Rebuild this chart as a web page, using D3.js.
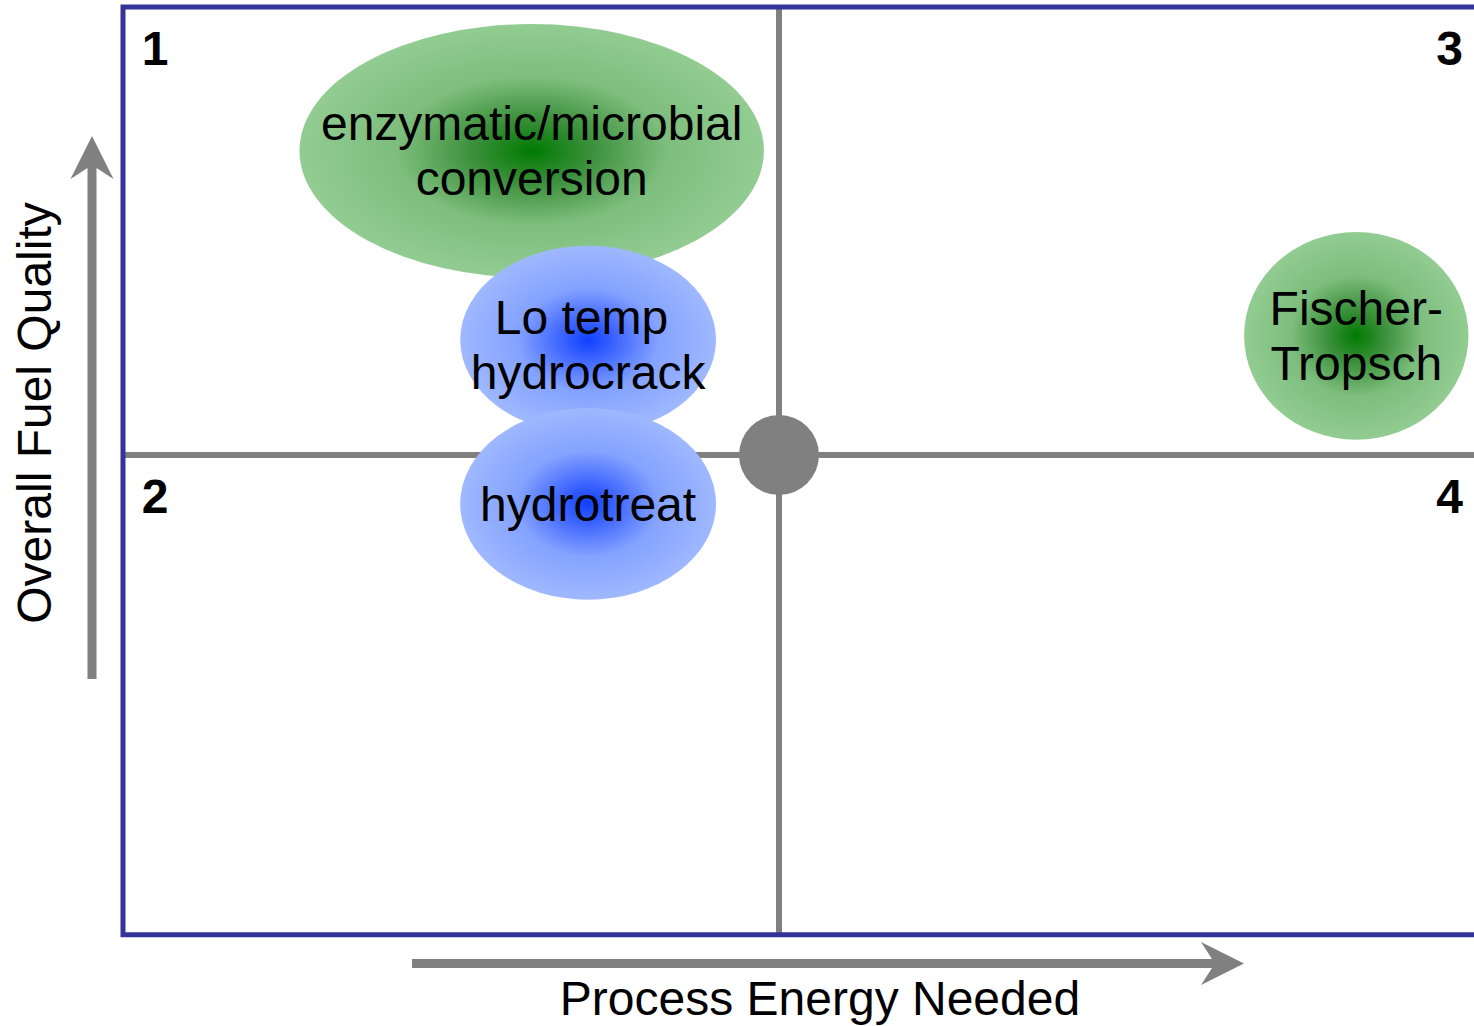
<!DOCTYPE html>
<html>
<head>
<meta charset="utf-8">
<script src="https://cdn.jsdelivr.net/npm/d3@7"></script>
<style>
  html, body { margin: 0; padding: 0; background: #fff; }
  svg { display: block; }
  text { font-family: "Liberation Sans", Arial, sans-serif; }
</style>
</head>
<body>
<svg id="chart" width="1474" height="1026"></svg>
<script>
// Process technologies placed by energy needed (x) and fuel quality (y);
// 0 on each axis is where the quadrant dividers cross.
const processNames = ["enzymatic", "loTempHydrocrack", "hydrotreat", "fischerTropsch"];
const processLabels = [
  ["enzymatic/microbial", "conversion"],
  ["Lo temp\u00a0", "hydrocrack"],
  ["hydrotreat"],
  ["Fischer-", "Tropsch"]
];
const energyNeeded = [-0.377, -0.291, -0.291, 0.880];   // x centre
const fuelQuality  = [0.679, 0.257, -0.109, 0.266];     // y centre
const spreadEnergy = [0.354, 0.195, 0.195, 0.171];      // x half-width
const spreadQuality = [0.283, 0.210, 0.214, 0.232];     // y half-height
const processFamily = ["bio", "hydro", "hydro", "bio"];

const quadrantLabels = ["1", "2", "3", "4"];
const quadrantX = [-1, -1, 1, 1];
const quadrantY = [1, -1, 1, -1];

const xTitle = "Process Energy Needed";
const yTitle = "Overall Fuel Quality";

const svg = d3.select("#chart");

const x = d3.scaleLinear().domain([-1, 1]).range([123, 1435]);
const y = d3.scaleLinear().domain([-1, 1]).range([903, 7]);
const xMin = -1, xMax = 1.08, yMin = -1.071, yMax = 1;

const defs = svg.append("defs");
const gradients = {
  bio:   [["0%", "#007a00"], ["25%", "#3a8f3a"], ["58%", "#7dbd7d"], ["100%", "#92cc92"]],
  hydro: [["0%", "#1040ff"], ["22%", "#3f66ff"], ["55%", "#84a2ff"], ["100%", "#9fb8ff"]]
};
Object.entries(gradients).forEach(([key, stops]) => {
  const g = defs.append("radialGradient").attr("id", "grad-" + key)
    .attr("cx", "50%").attr("cy", "50%").attr("r", "50%");
  stops.forEach(([o, c]) => g.append("stop").attr("offset", o).attr("stop-color", c));
});

const grey = "#808080";

// Quadrant dividers
svg.append("line")
  .attr("x1", x(0)).attr("x2", x(0))
  .attr("y1", y(yMax)).attr("y2", y(yMin))
  .attr("stroke", grey).attr("stroke-width", 6);
svg.append("line")
  .attr("x1", x(xMin)).attr("x2", x(xMax))
  .attr("y1", y(0)).attr("y2", y(0))
  .attr("stroke", grey).attr("stroke-width", 6);

// Frame
svg.append("path")
  .attr("d", `M${x(xMax)},${y(yMax)} H${x(xMin)} V${y(yMin)} H${x(xMax)}`)
  .attr("fill", "none").attr("stroke", "#333399").attr("stroke-width", 5);

// Centre marker
svg.append("circle")
  .attr("cx", x(0)).attr("cy", y(0)).attr("r", 40)
  .attr("fill", grey);

// Process ellipses
const data = processNames.map((name, i) => ({
  name, lines: processLabels[i],
  cx: energyNeeded[i], cy: fuelQuality[i],
  rx: spreadEnergy[i], ry: spreadQuality[i],
  family: processFamily[i]
}));

const groups = svg.selectAll("g.process").data(data).join("g").attr("class", "process");
groups.append("ellipse")
  .attr("cx", d => x(d.cx)).attr("cy", d => y(d.cy))
  .attr("rx", d => x(d.rx) - x(0)).attr("ry", d => y(0) - y(d.ry))
  .attr("fill", d => `url(#grad-${d.family})`);

const fontSize = 48, lineGap = 55;
groups.each(function(d) {
  const g = d3.select(this);
  const n = d.lines.length;
  d.lines.forEach((line, j) => {
    g.append("text")
      .attr("x", x(d.cx))
      .attr("y", y(d.cy) + (j - (n - 1) / 2) * lineGap + fontSize * 0.35 + (d.name === "loTempHydrocrack" ? 5 : 0))
      .attr("text-anchor", "middle")
      .attr("font-size", fontSize)
      .attr("fill", "#000")
      .text(line);
  });
});

// Quadrant numbers
svg.selectAll("text.quad").data(quadrantLabels).join("text")
  .attr("class", "quad")
  .attr("x", (d, i) => quadrantX[i] < 0 ? x(xMin) + 32 : 1463)
  .attr("y", (d, i) => quadrantY[i] > 0 ? y(yMax) + 58 : y(0) + 58)
  .attr("text-anchor", (d, i) => quadrantX[i] < 0 ? "middle" : "end")
  .attr("font-size", 48).attr("font-weight", "bold")
  .text(d => d);

// Axis arrows
const shaft = 9, headHalf = 21.5, headLen = 43, notch = 11;
function arrowPath(len) {
  // pointing along +x from origin, length len
  const s = shaft / 2, b = len - headLen;
  return `M0,${-s} H${b + notch} L${b},${-headHalf} L${len},0 L${b},${headHalf} L${b + notch},${s} H0 Z`;
}
const hx0 = 412, hx1 = 1244, hy = 963.5;
svg.append("path").attr("d", arrowPath(hx1 - hx0))
  .attr("transform", `translate(${hx0},${hy})`).attr("fill", grey);
const vx = 92, vy0 = 679, vy1 = 136;
svg.append("path").attr("d", arrowPath(vy0 - vy1))
  .attr("transform", `translate(${vx},${vy0}) rotate(-90)`).attr("fill", grey);

// Axis titles
svg.append("text")
  .attr("x", 820).attr("y", 1015)
  .attr("text-anchor", "middle").attr("font-size", fontSize)
  .text(xTitle);
svg.append("text")
  .attr("transform", "translate(51,413) rotate(-90)")
  .attr("text-anchor", "middle").attr("font-size", fontSize)
  .text(yTitle);
</script>
</body>
</html>
